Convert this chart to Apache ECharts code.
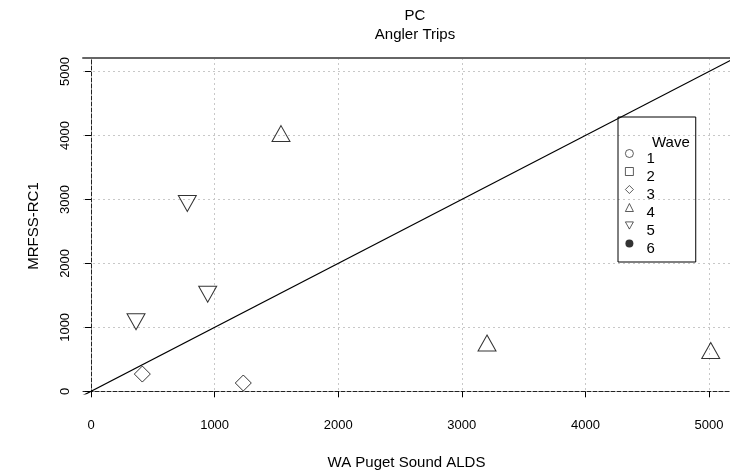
<!DOCTYPE html>
<html>
<head>
<meta charset="utf-8">
<script src="https://cdn.jsdelivr.net/npm/echarts@6/dist/echarts.min.js"></script>
<style>
  html, body { margin: 0; padding: 0; background: #fff; }
  #chart { width: 730px; height: 475px; }
</style>
</head>
<body>
<div id="chart"></div>
<script>
// values
const tickValues = [0, 1000, 2000, 3000, 4000, 5000];
const waves = ['1', '2', '3', '4', '5', '6'];
const wave1 = [];
const wave2 = [];
const wave3 = [[415, 270], [1232, 130]];
const wave4 = [[1537, 4030], [3204, 755], [5014, 638]];
const wave5 = [[364, 1088], [779, 2938], [944, 1517]];
const wave6 = [];
const refLine = [[-200, -200], [6000, 6000]]; // y = x

const font = 'Liberation Sans, Arial, Helvetica, sans-serif';
const hollow = { color: 'rgba(0,0,0,0)', borderColor: '#000', borderWidth: 1 };
const plain = v => String(v);

const chart = echarts.init(document.getElementById('chart'));

chart.setOption({
  animation: false,
  textStyle: { fontFamily: font, color: '#000' },
  title: [
    {
      text: 'PC\nAngler Trips',
      left: 410, top: 1, textAlign: 'center',
      textStyle: { fontSize: 15, fontWeight: 'normal', lineHeight: 19, color: '#000' }
    },
    {
      text: 'Wave',
      left: 647, top: 130,
      textStyle: { fontSize: 15, fontWeight: 'normal', color: '#000' }
    }
  ],
  legend: {
    data: waves,
    orient: 'vertical',
    left: 618, top: 117,
    padding: [24, 41, 6, 7],
    itemWidth: 8, itemHeight: 8, itemGap: -7,
    borderColor: '#000', borderWidth: 1,
    selectedMode: false,
    itemStyle: { borderWidth: 0.8 },
    // empty first line pushes the label a little below its symbol, as in the original
    formatter: name => '\n' + name,
    textStyle: { fontSize: 15, lineHeight: 10, padding: [0, 0, 0, 8], color: '#000' }
  },
  grid: { left: 83, right: 0, top: 58, bottom: 81 },
  xAxis: [
    {
      type: 'value', min: -65, max: 5170,
      name: 'WA Puget Sound ALDS', nameLocation: 'middle', nameGap: 61,
      nameTextStyle: { fontSize: 15, color: '#000' },
      axisLine: { show: true, lineStyle: { color: '#222', width: 1, type: [4, 2] } },
      axisTick: { show: true, length: 6, customValues: tickValues, lineStyle: { color: '#000' } },
      axisLabel: { customValues: tickValues, formatter: plain, fontSize: 13, margin: 25, color: '#000' },
      splitLine: { show: true, lineStyle: { color: '#c8c8c8', type: [2, 3] } }
    },
    {
      type: 'value', min: -65, max: 5170, position: 'top',
      axisLine: { show: true, onZero: false, lineStyle: { color: '#666', width: 2 } },
      axisTick: { show: false }, axisLabel: { show: false }, splitLine: { show: false }
    }
  ],
  yAxis: {
    type: 'value', min: -42, max: 5212,
    name: 'MRFSS-RC1', nameLocation: 'middle', nameGap: 42, nameRotate: 90,
    nameTextStyle: { fontSize: 15, color: '#000' },
    axisLine: { show: true, lineStyle: { color: '#222', width: 1, type: [4, 2] } },
    axisTick: { show: true, length: 6, customValues: tickValues, lineStyle: { color: '#000' } },
    axisLabel: { customValues: tickValues, formatter: plain, fontSize: 13, rotate: 90, margin: 11, color: '#000' },
    splitLine: { show: true, lineStyle: { color: '#c8c8c8', type: [2, 3] } }
  },
  series: [
    {
      type: 'line', data: refLine, symbol: 'none', silent: true,
      lineStyle: { color: '#000', width: 1.2 }, z: 1
    },
    { name: '1', type: 'scatter', data: wave1, symbol: 'circle', symbolSize: 9, itemStyle: hollow },
    { name: '2', type: 'scatter', data: wave2, symbol: 'rect', symbolSize: 8, itemStyle: hollow },
    { name: '3', type: 'scatter', data: wave3, symbol: 'diamond', symbolSize: [16, 16], itemStyle: hollow },
    { name: '4', type: 'scatter', data: wave4, symbol: 'triangle', symbolSize: [18, 16], itemStyle: hollow },
    { name: '5', type: 'scatter', data: wave5, symbol: 'path://M0,0 L2,0 L1,1.8 Z', symbolSize: [18, 16], itemStyle: hollow },
    { name: '6', type: 'scatter', data: wave6, symbol: 'circle', symbolSize: 9, itemStyle: { color: '#000' } }
  ]
});
</script>
</body>
</html>
